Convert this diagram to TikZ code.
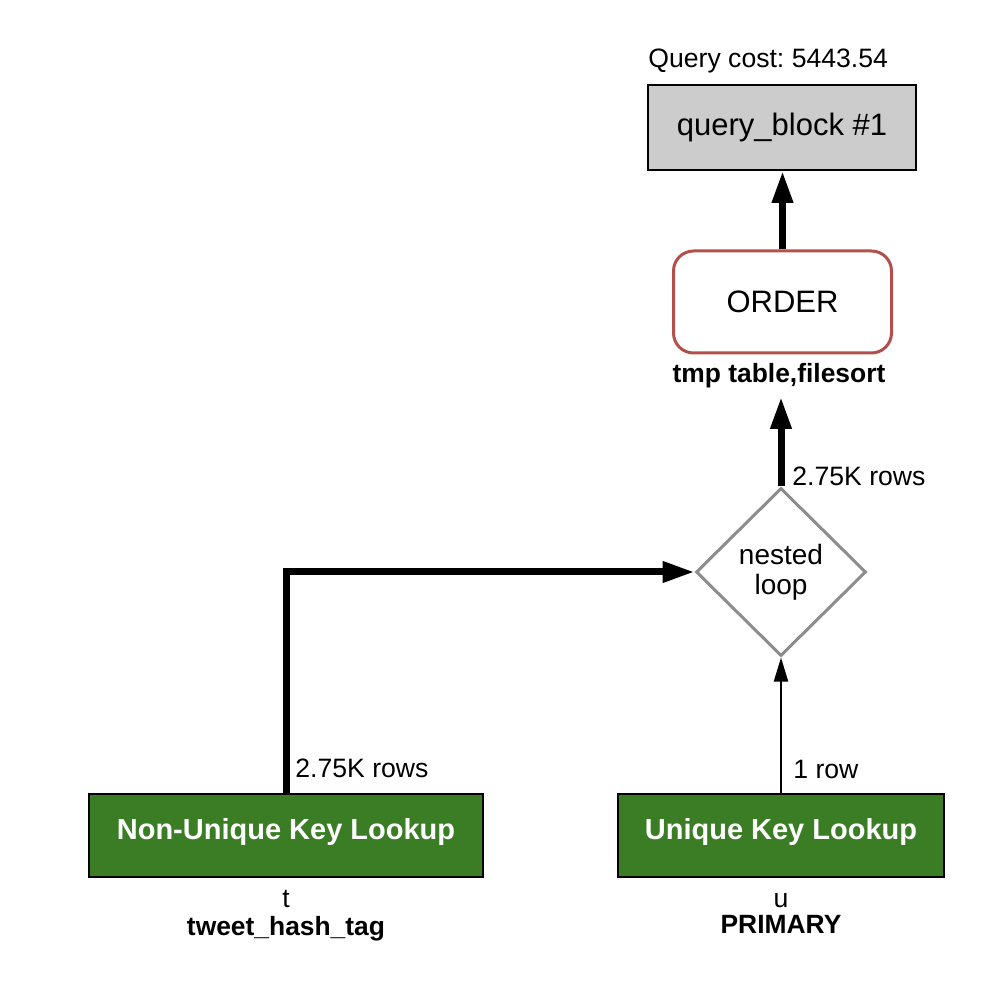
\documentclass[tikz,border=0pt]{standalone}
\usepackage{fontspec}
\setmainfont{Liberation Sans}
\usetikzlibrary{shapes.geometric,arrows.meta}
\definecolor{lookupgreen}{HTML}{3A7D24}
\definecolor{blockgray}{HTML}{CCCCCC}
\definecolor{orderred}{HTML}{B4504B}
\definecolor{loopgray}{HTML}{8C8C8C}
\tikzset{
  lookup/.style={draw, line width=1pt, fill=lookupgreen, text=white,
    font=\fontsize{14.5}{17}\selectfont\bfseries, minimum height=41.5pt,
    text height=10.5pt, text depth=7pt},
  fatarrow/.style={line width=3.5pt, -{Triangle[length=16pt,width=10pt]}},
  slimarrow/.style={line width=1pt, -{Triangle[length=12pt,width=7pt]}},
  lbl/.style={font=\fontsize{13.3}{15}\selectfont, inner sep=0pt},
  boldlbl/.style={font=\fontsize{13.2}{15}\selectfont\bfseries, inner sep=0pt}
}
\frenchspacing
\begin{document}
\begin{tikzpicture}[x=0.5pt,y=-0.5pt]
  \useasboundingbox (0,0) rectangle (992,984);

  \node[draw, line width=1pt, fill=blockgray, minimum width=134pt, minimum height=42.5pt,
    font=\fontsize{15.5}{18}\selectfont] (qb) at (782,127.5) {query\_block \#1};
  \node[lbl, anchor=base west] (cost) at (648,68) {Query cost: 5443.54};
  \node[draw=orderred, line width=1.5pt, rounded corners=10pt, minimum width=109pt,
    minimum height=51pt, font=\fontsize{15.5}{18}\selectfont] (order) at (782.5,302) {ORDER};
  \node[boldlbl, anchor=base] (sort) at (779,383) {tmp table,filesort};
  \node[diamond, draw=loopgray, line width=1.5pt, minimum width=85pt, minimum height=84pt,
    inner sep=0pt, align=center, font=\fontsize{14}{15}\selectfont] (loop) at (781,572) {nested\\loop};
  \node[lookup, minimum width=197pt] (nonuniq) at (286,835.5) {Non-Unique Key Lookup};
  \node[lookup, minimum width=163pt] (uniq) at (781,835.5) {Unique Key Lookup};
  \node[lbl, anchor=base] (t) at (286,907) {t};
  \node[boldlbl, anchor=base] (ttable) at (286,935) {tweet\_hash\_tag};
  \node[lbl, anchor=base] (u) at (781,907) {u};
  \node[boldlbl, anchor=base] (ukey) at (781,933) {PRIMARY};
  \node[lbl, anchor=base west] (rowsa) at (792,486) {2.75K rows};
  \node[lbl, anchor=base west] (rowsb) at (295,777) {2.75K rows};
  \node[lbl, anchor=base west] (rowc) at (793,778) {1 row};

  \draw[fatarrow] (order.north) -- (order.north |- qb.south);
  \draw[fatarrow] (loop.north) -- (loop.north |- 0,397);
  \draw[fatarrow] (nonuniq.north) |- (loop.west);
  \draw[slimarrow] (uniq.north) -- (loop.south);
\end{tikzpicture}
\end{document}
